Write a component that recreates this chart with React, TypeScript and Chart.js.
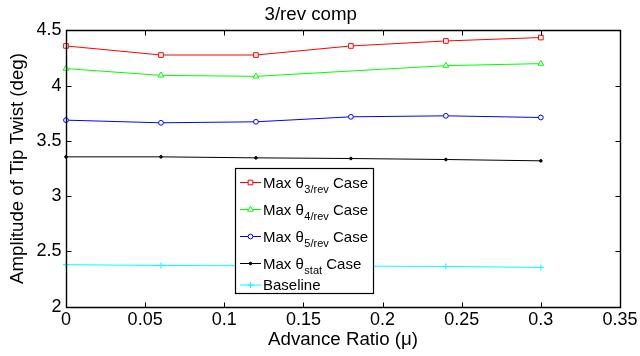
import React, { useEffect, useRef } from 'react';
import { Chart, registerables } from 'chart.js';

Chart.register(...registerables);

// ---- data ----
const mu = [0, 0.06, 0.12, 0.18, 0.24, 0.3];
const max3rev = [4.358, 4.276, 4.276, 4.358, 4.403, 4.434];
const max4rev = [4.153, 4.092, 4.083, null, 4.18, 4.198];
const max5rev = [3.687, 3.663, 3.672, 3.717, 3.726, 3.711];
const maxStat = [3.355, 3.355, 3.346, 3.34, 3.331, 3.319];
const baseline = [2.38, 2.373, 2.37, 2.367, 2.364, 2.355];

const xTicks = [0, 0.05, 0.1, 0.15, 0.2, 0.25, 0.3, 0.35];
const yTicks = [2, 2.5, 3, 3.5, 4, 4.5];

const legendSubs = ['3/rev', '4/rev', '5/rev', 'stat', ''];
const legendLabels = ['Max θ', 'Max θ', 'Max θ', 'Max θ', 'Baseline'];

const FONT = "'Liberation Sans', Arial, Helvetica, sans-serif";
const TICK_SIZE = 18;
const LABEL_SIZE = 18.7;

const fmt = (v: number) => String(Number(v.toFixed(2)));

const boxPlugin = {
  id: 'matlabBox',
  afterDatasetsDraw(chart: any) {
    const { ctx, chartArea, scales } = chart;
    const L = Math.round(chartArea.left) + 0.5;
    const R = Math.round(chartArea.right) + 0.5;
    const T = Math.round(chartArea.top) + 0.5;
    const B = Math.round(chartArea.bottom) + 0.5;
    ctx.save();
    ctx.strokeStyle = '#000';
    ctx.lineWidth = 1.4;
    ctx.beginPath();
    ctx.rect(L, T, R - L, B - T);
    ctx.stroke();
    ctx.lineWidth = 1;
    const tl = 5;
    ctx.beginPath();
    for (const v of xTicks) {
      const px = Math.round(scales.x.getPixelForValue(v)) + 0.5;
      ctx.moveTo(px, B);
      ctx.lineTo(px, B - tl);
      ctx.moveTo(px, T);
      ctx.lineTo(px, T + tl);
    }
    for (const v of yTicks) {
      const py = Math.round(scales.y.getPixelForValue(v)) + 0.5;
      ctx.moveTo(L, py);
      ctx.lineTo(L + tl, py);
      ctx.moveTo(R, py);
      ctx.lineTo(R - tl, py);
    }
    ctx.stroke();
    ctx.restore();
  },
};

function drawMarker(ctx: CanvasRenderingContext2D, ds: any, x: number, y: number) {
  ctx.save();
  ctx.strokeStyle = ds.borderColor;
  ctx.fillStyle = ds.pointBackgroundColor;
  ctx.lineWidth = 1;
  const r = ds.pointRadius;
  const style = ds.pointStyle;
  ctx.beginPath();
  if (style === 'rect') {
    const s = Math.SQRT1_2 * r;
    ctx.rect(x - s, y - s, 2 * s, 2 * s);
    ctx.fill();
    ctx.stroke();
  } else if (style === 'triangle') {
    ctx.moveTo(x, y - r);
    ctx.lineTo(x + (r * Math.sqrt(3)) / 2, y + r / 2);
    ctx.lineTo(x - (r * Math.sqrt(3)) / 2, y + r / 2);
    ctx.closePath();
    ctx.fill();
    ctx.stroke();
  } else if (style === 'circle') {
    ctx.arc(x, y, r, 0, Math.PI * 2);
    ctx.fill();
    ctx.stroke();
  } else if (style === 'cross') {
    ctx.moveTo(x - r, y);
    ctx.lineTo(x + r, y);
    ctx.moveTo(x, y - r);
    ctx.lineTo(x, y + r);
    ctx.stroke();
  }
  ctx.restore();
}

const legendPlugin = {
  id: 'matlabLegend',
  afterDraw(chart: any) {
    const { ctx } = chart;
    const bx = 235.5, by = 168.5, bw = 138, bh = 125;
    ctx.save();
    ctx.fillStyle = '#fff';
    ctx.fillRect(bx, by, bw, bh);
    ctx.strokeStyle = '#000';
    ctx.lineWidth = 1.2;
    ctx.strokeRect(bx, by, bw, bh);
    const rows = [182.5, 209.5, 236.5, 263.5, 285];
    chart.data.datasets.forEach((ds: any, i: number) => {
      const y = rows[i];
      ctx.strokeStyle = ds.borderColor;
      ctx.lineWidth = 1;
      ctx.beginPath();
      ctx.moveTo(240, y);
      ctx.lineTo(261, y);
      ctx.stroke();
      drawMarker(ctx, ds, 250.5, y);
      ctx.fillStyle = '#000';
      ctx.textBaseline = 'alphabetic';
      ctx.textAlign = 'left';
      ctx.font = `15px ${FONT}`;
      let tx = 263;
      const baseY = y + 5;
      ctx.fillText(legendLabels[i], tx, baseY);
      tx += ctx.measureText(legendLabels[i]).width;
      if (legendSubs[i]) {
        ctx.font = `11px ${FONT}`;
        ctx.fillText(legendSubs[i], tx + 0.5, baseY + 5);
        tx += ctx.measureText(legendSubs[i]).width + 0.5;
        ctx.font = `15px ${FONT}`;
        ctx.fillText(' Case', tx, baseY);
      }
    });
    ctx.restore();
  },
};

export default function App() {
  const ref = useRef<HTMLCanvasElement | null>(null);
  useEffect(() => {
    document.body.style.margin = '0';
    const canvas = ref.current!;
    const mk = (data: (number | null)[], color: string, style: string, radius: number, fill: string) => ({
      data: mu.map((x, i) => ({ x, y: data[i] })),
      borderColor: color,
      backgroundColor: color,
      borderWidth: 1,
      pointStyle: style,
      pointRadius: radius,
      pointBorderWidth: 1,
      pointBorderColor: color,
      pointBackgroundColor: fill,
      spanGaps: true,
      clip: false as any,
      tension: 0,
    });
    const chart = new Chart(canvas, {
      type: 'line',
      data: {
        datasets: [
          mk(max3rev, '#ff0000', 'rect', 3.3, '#ffffff'),
          mk(max4rev, '#00ff00', 'triangle', 3.3, '#ffffff'),
          mk(max5rev, '#0000ff', 'circle', 2.4, '#ffffff'),
          mk(maxStat, '#000000', 'circle', 1.3, '#000000'),
          mk(baseline, '#00ffff', 'cross', 3, '#00ffff'),
        ] as any,
      },
      options: {
        animation: false,
        responsive: false,
        devicePixelRatio: 1,
        layout: { padding: { left: 0, right: 18.5, top: 0, bottom: 0 } },
        plugins: {
          legend: { display: false },
          tooltip: { enabled: false },
          title: {
            display: true,
            text: '3/rev comp',
            color: '#000',
            font: { family: FONT, size: LABEL_SIZE, weight: 'normal' as any, lineHeight: 1.2 },
            padding: { top: 3.6, bottom: 4.2 },
          },
        },
        scales: {
          x: {
            type: 'linear',
            min: 0,
            max: 0.35,
            grid: { display: false, drawTicks: false },
            border: { display: false },
            afterBuildTicks: (s: any) => {
              s.ticks = xTicks.map((v) => ({ value: v }));
            },
            afterFit: (s: any) => {
              s.height = 49.3;
            },
            ticks: {
              color: '#000',
              font: { family: FONT, size: TICK_SIZE },
              padding: 2.5,
              maxRotation: 0,
              autoSkip: false,
              callback: (v: any) => fmt(Number(v)),
            },
            title: {
              display: true,
              text: 'Advance Ratio (μ)',
              color: '#000',
              font: { family: FONT, size: LABEL_SIZE },
              padding: { top: 0, bottom: 4.8 },
            },
          },
          y: {
            type: 'linear',
            min: 2,
            max: 4.5,
            grid: { display: false, drawTicks: false },
            border: { display: false },
            afterBuildTicks: (s: any) => {
              s.ticks = yTicks.map((v) => ({ value: v }));
            },
            afterFit: (s: any) => {
              s.width = 66;
            },
            ticks: {
              color: '#000',
              font: { family: FONT, size: TICK_SIZE },
              padding: 4.5,
              autoSkip: false,
              callback: (v: any) => fmt(Number(v)),
            },
            title: {
              display: true,
              text: 'Amplitude of Tip Twist (deg)',
              color: '#000',
              font: { family: FONT, size: LABEL_SIZE },
              padding: { top: 6.8, bottom: 0 },
            },
          },
        },
      },
      plugins: [boxPlugin, legendPlugin],
    });
    return () => chart.destroy();
  }, []);
  return <canvas ref={ref} width={640} height={356} style={{ display: 'block' }} />;
}
